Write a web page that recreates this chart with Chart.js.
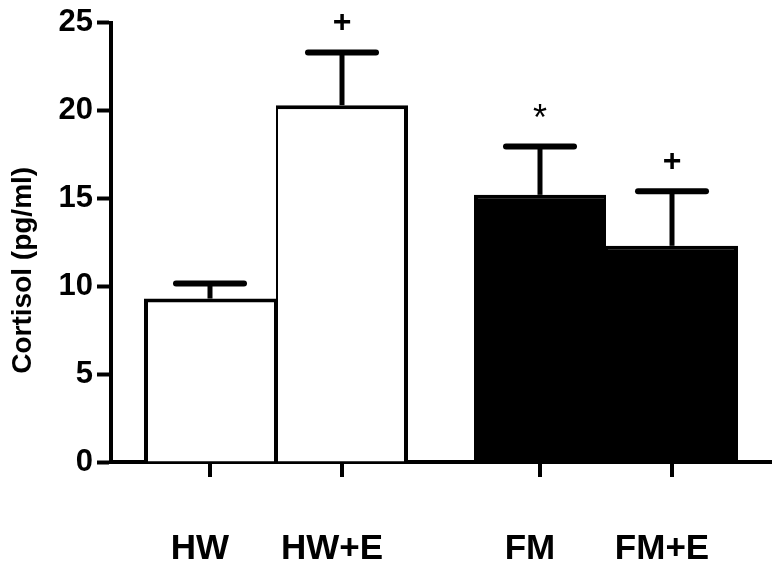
<!DOCTYPE html>
<html>
<head>
<meta charset="utf-8">
<script src="https://cdn.jsdelivr.net/npm/chart.js@4/dist/chart.umd.min.js"></script>
<style>
  html, body { margin: 0; padding: 0; background: #fff; }
  #wrap { width: 780px; height: 567px; }
</style>
</head>
<body>
<div id="wrap"><canvas id="chart" width="780" height="567"></canvas></div>
<script>
// data
var categories = ['HW', 'HW+E', 'FM', 'FM+E'];
var groups = ['HW', 'FM'];
var means = [9.3, 20.3, 15.2, 12.3];
var sems = [0.85, 3.0, 2.75, 3.1];
var marks = ['', '+', '*', '+'];
var yTicks = [0, 5, 10, 15, 20, 25];
var yTitle = 'Cortisol (pg/ml)';

var FONT = "'Liberation Sans', Arial, sans-serif";

// bars are grouped: [no E, +E] for each of HW and FM
function pick(start) {
  return groups.map(function (g, gi) { return means[gi * 2 + start]; });
}

var errorBars = {
  id: 'errorBars',
  afterDatasetsDraw: function (chart) {
    var ctx = chart.ctx;
    var y = chart.scales.y;
    var area = chart.chartArea;
    ctx.save();
    ctx.strokeStyle = '#000';
    ctx.fillStyle = '#000';
    chart.data.datasets.forEach(function (ds, di) {
      var meta = chart.getDatasetMeta(di);
      meta.data.forEach(function (bar, gi) {
        var idx = gi * 2 + di;
        var top = y.getPixelForValue(means[idx] + sems[idx]);
        // stem
        ctx.lineCap = 'butt';
        ctx.lineWidth = 5;
        ctx.beginPath();
        ctx.moveTo(bar.x, bar.y);
        ctx.lineTo(bar.x, top);
        ctx.stroke();
        // cap
        ctx.lineCap = 'round';
        ctx.lineWidth = 6;
        ctx.beginPath();
        ctx.moveTo(bar.x - 34, top);
        ctx.lineTo(bar.x + 34, top);
        ctx.stroke();
        // significance mark
        if (marks[idx]) {
          ctx.textAlign = 'center';
          ctx.textBaseline = 'middle';
          if (marks[idx] === '*') {
            ctx.font = '36px ' + FONT;
            ctx.fillText(marks[idx], bar.x, top - 26);
          } else {
            ctx.font = 'bold 32px ' + FONT;
            ctx.fillText(marks[idx], bar.x, top - 29);
          }
        }
        // x tick + label
        ctx.lineCap = 'butt';
        ctx.lineWidth = 4;
        ctx.beginPath();
        ctx.moveTo(bar.x, area.bottom);
        ctx.lineTo(bar.x, area.bottom + 15);
        ctx.stroke();
        ctx.font = 'bold 35px ' + FONT;
        ctx.textAlign = 'center';
        ctx.textBaseline = 'middle';
        ctx.fillText(categories[idx], bar.x - 10, area.bottom + 87);
      });
    });
    // y axis title, sits a bit below the middle of the axis
    ctx.translate(23, (area.top + area.bottom) / 2 + 28);
    ctx.rotate(-Math.PI / 2);
    ctx.font = 'bold 28px ' + FONT;
    ctx.textAlign = 'center';
    ctx.textBaseline = 'middle';
    ctx.fillText(yTitle, 0, 0);
    ctx.restore();
  }
};

var ctx = document.getElementById('chart').getContext('2d');
var chart = new Chart(ctx, {
  type: 'bar',
  data: {
    labels: groups,
    datasets: [
      {
        data: pick(0),
        backgroundColor: ['#ffffff', '#000000'],
        borderColor: '#000',
        borderWidth: { top: 4, left: 4, right: 2, bottom: 0 },
        borderSkipped: false
      },
      {
        data: pick(1),
        backgroundColor: ['#ffffff', '#000000'],
        borderColor: '#000',
        borderWidth: { top: 4, left: 2, right: 4, bottom: 0 },
        borderSkipped: false
      }
    ]
  },
  options: {
    responsive: false,
    animation: false,
    layout: { padding: { top: 22, right: 9, bottom: 0, left: 0 } },
    plugins: {
      legend: { display: false },
      tooltip: { enabled: false }
    },
    datasets: {
      bar: { barPercentage: 1, categoryPercentage: 0.8 }
    },
    scales: {
      x: {
        grid: { display: false },
        border: { color: '#000', width: 4 },
        ticks: { display: false },
        afterFit: function (scale) { scale.height = 105; }
      },
      y: {
        min: 0,
        max: 25,
        afterBuildTicks: function (scale) {
          scale.ticks = yTicks.map(function (v) { return { value: v }; });
        },
        afterFit: function (scale) { scale.width = 111; },
        ticks: {
          color: '#000',
          padding: 4,
          font: { family: FONT, size: 31, weight: 'bold' }
        },
        grid: {
          drawOnChartArea: false,
          color: '#000',
          tickLength: 14,
          tickWidth: 4
        },
        border: { color: '#000', width: 4 }
      }
    }
  },
  plugins: [errorBars]
});
</script>
</body>
</html>
